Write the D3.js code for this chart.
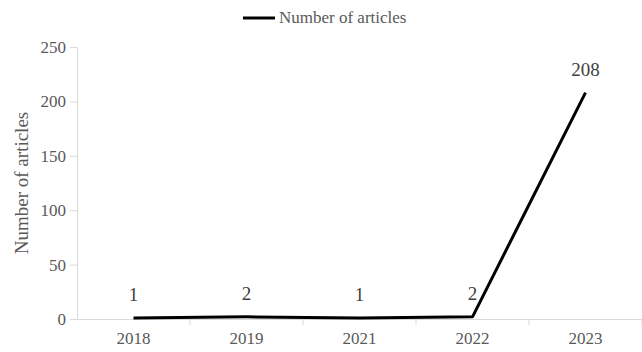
<!DOCTYPE html>
<html>
<head>
<meta charset="utf-8">
<script src="https://cdn.jsdelivr.net/npm/d3@7"></script>
<style>
  body { margin: 0; background: #fff; }
  .axis path, .axis line { stroke: #d9d9d9; }
  .axis text { fill: #595959; }
</style>
</head>
<body>
<svg width="642" height="352"></svg>
<script>
// data
const years = ["2018", "2019", "2021", "2022", "2023"];
const articles = [1, 2, 1, 2, 208];
const yTicks = [0, 50, 100, 150, 200, 250];
const seriesName = "Number of articles";

const font = "'Liberation Serif', 'Times New Roman', serif";

const svg = d3.select("svg").style("display", "block");

const margin = { top: 47, right: 0, bottom: 33, left: 77 };
const width = 642, height = 352;

const x = d3.scaleBand().domain(years).range([margin.left, width - margin.right]);
const y = d3.scaleLinear().domain([0, 250]).range([height - margin.bottom, margin.top]);

// y axis
const yAxis = svg.append("g")
  .attr("class", "axis")
  .attr("transform", `translate(${margin.left},0)`)
  .call(d3.axisLeft(y).tickValues(yTicks).tickSize(7).tickPadding(4).tickSizeOuter(0));
yAxis.selectAll("text").style("font-family", font).style("font-size", "17px");

// x axis, ticks between categories like excel
const xAxis = svg.append("g")
  .attr("class", "axis")
  .attr("transform", `translate(0,${y(0)})`)
  .call(d3.axisBottom(x).tickSize(0).tickPadding(13).tickSizeOuter(0));
xAxis.selectAll("text").style("font-family", font).style("font-size", "17px");
xAxis.selectAll(".divider")
  .data(years)
  .enter()
  .append("line")
  .attr("x1", d => x(d) + x.bandwidth())
  .attr("x2", d => x(d) + x.bandwidth())
  .attr("y1", 0)
  .attr("y2", 6)
  .attr("stroke", "#d9d9d9");

// the line
const line = d3.line()
  .x((d, i) => x(years[i]) + x.bandwidth() / 2)
  .y(d => y(d));

svg.append("path")
  .datum(articles)
  .attr("d", line)
  .attr("fill", "none")
  .attr("stroke", "#000")
  .attr("stroke-width", 3)
  .attr("stroke-linejoin", "round");

// data labels
svg.selectAll("text.label")
  .data(articles)
  .enter()
  .append("text")
  .attr("class", "label")
  .attr("x", (d, i) => x(years[i]) + x.bandwidth() / 2)
  .attr("y", d => y(d) - 17)
  .attr("text-anchor", "middle")
  .attr("fill", "#404040")
  .style("font-family", font)
  .style("font-size", "19px")
  .text(d => d);

// y title
svg.append("text")
  .attr("transform", `translate(28,${(y(0) + y(250)) / 2}) rotate(-90)`)
  .attr("text-anchor", "middle")
  .attr("fill", "#595959")
  .style("font-family", font)
  .style("font-size", "19px")
  .text(seriesName);

// legend
const legend = svg.append("g").attr("transform", "translate(243,18)");
legend.append("line")
  .attr("x1", 0).attr("x2", 32)
  .attr("y1", 0).attr("y2", 0)
  .attr("stroke", "#000")
  .attr("stroke-width", 3);
legend.append("text")
  .attr("x", 36)
  .attr("y", 5)
  .attr("fill", "#595959")
  .style("font-family", font)
  .style("font-size", "17px")
  .text(seriesName);
</script>
</body>
</html>
